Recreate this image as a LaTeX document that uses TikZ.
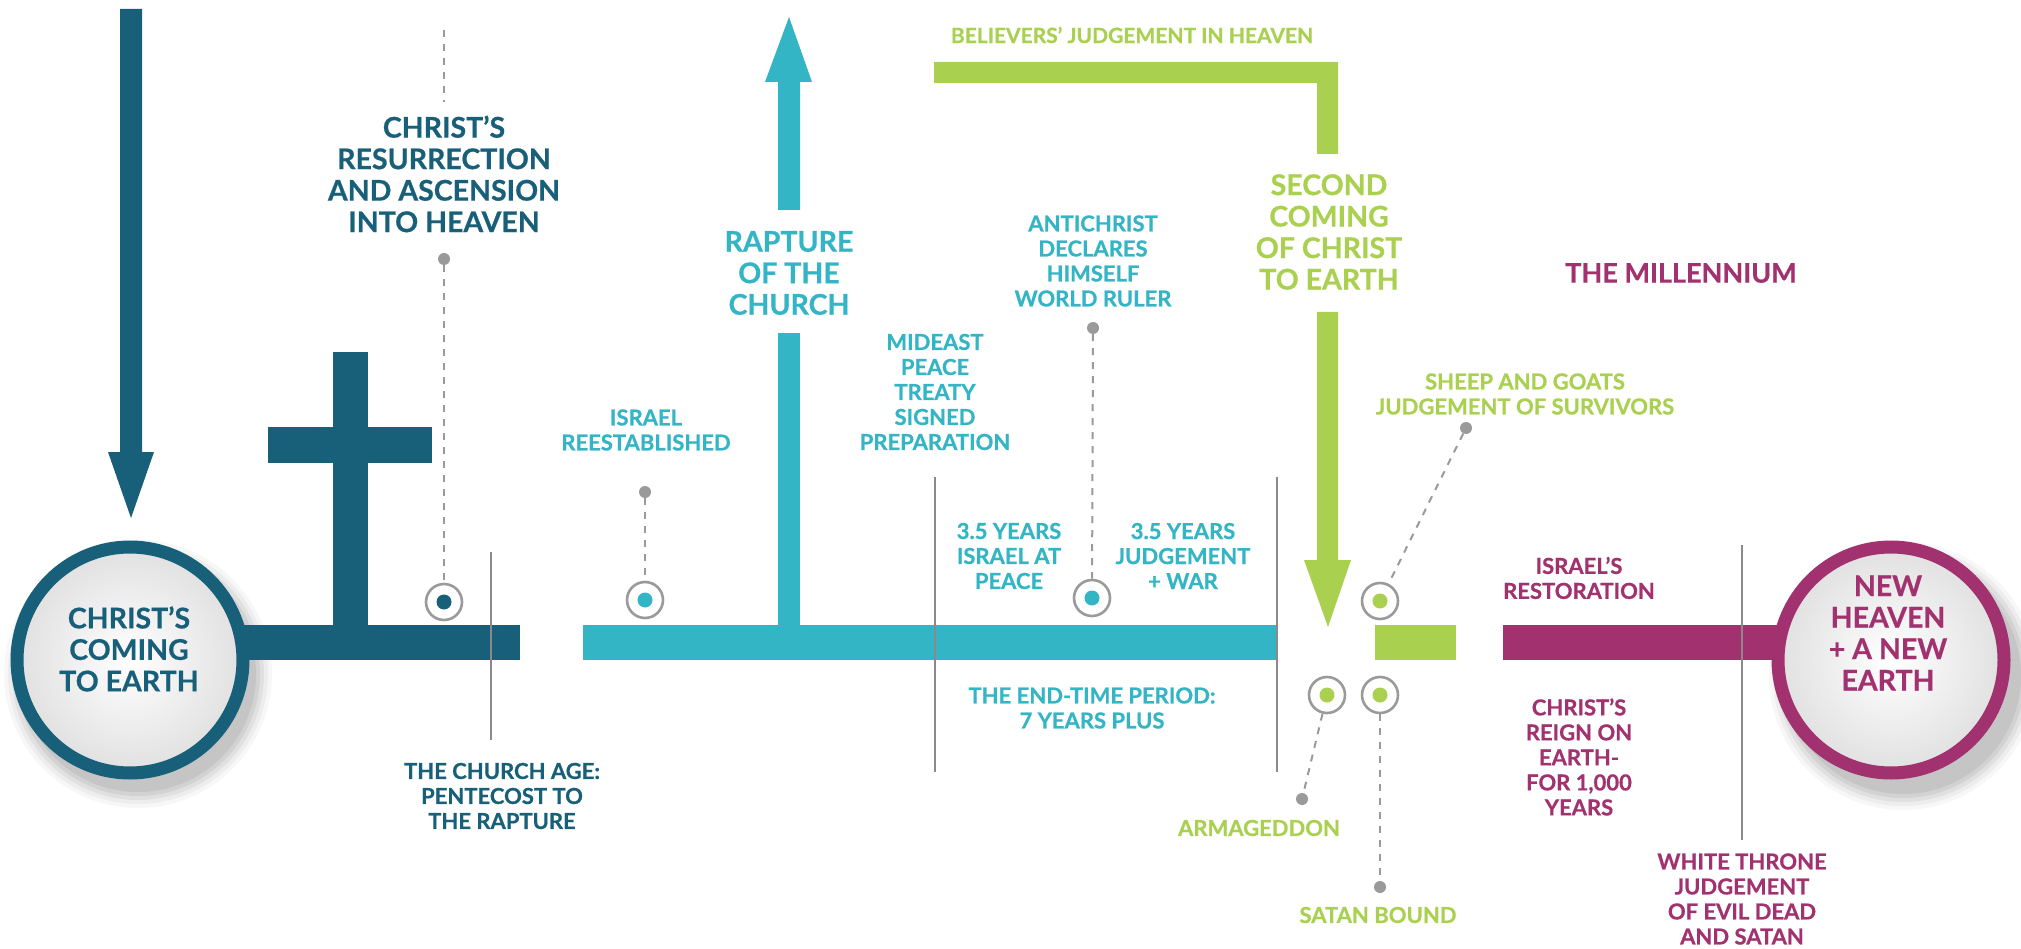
\documentclass[tikz,border=0pt]{standalone}
\usepackage{fontspec}
\setmainfont{Lato}[BoldFeatures={FakeBold=0.6}]
\usetikzlibrary{shadows}
\definecolor{dteal}{HTML}{186079}
\definecolor{cteal}{HTML}{33B5C5}
\definecolor{cgreen}{HTML}{A9D14F}
\definecolor{cmag}{HTML}{A2316F}
\definecolor{lgray}{HTML}{8A8A8A}
\definecolor{rgray}{HTML}{9A9A9A}
\newcommand\myfs[2]{\fontsize{#1}{#2}\selectfont\bfseries}
\tikzset{
  x=1pt, y=-1pt,
  txt/.style={align=center, inner sep=0, font=\myfs{22}{25}},
  bigtxt/.style={align=center, inner sep=0, font=\myfs{28.5}{31.5}},
  gdot/.style={circle, fill=rgray, inner sep=0, minimum size=12},
  ring/.style={circle, draw=rgray, line width=2.6, fill=white, inner sep=0, minimum size=36,
    path picture={\fill[#1] (path picture bounding box.center) circle[radius=7.5];}},
  dashc/.style={draw=rgray, line width=2, dash pattern=on 7pt off 7pt},
  divider/.style={draw=lgray, line width=2},
  bigcirc/.style={circle, draw=#1, line width=13, minimum size=226, inner sep=0,
    inner color=white, outer color=gray!24},
}
\begin{document}
\begin{tikzpicture}
\useasboundingbox[fill=white] (0,0) rectangle (2021,949);

% ---- shadows of the big circles
\foreach \r/\o in {134/0.03,130/0.04,126/0.05,122/0.06,118/0.06}{
  \fill[black, opacity=\o] (138,674) circle[radius=\r];
  \fill[black, opacity=\o] (1903,676) circle[radius=\r];
}

% ---- bars
\fill[dteal] (200,625) rectangle (520,660);
\fill[cteal] (583,625) rectangle (1277,660);
\fill[cgreen] (1375,625) rectangle (1456,660);
\fill[cmag] (1503,625) rectangle (1820,660);

% ---- cross
\fill[dteal] (333,352) rectangle (368,625);
\fill[dteal] (268,427) rectangle (432,463);

% ---- arrows
\fill[dteal] (120,9) -- (142,9) -- (142,452) -- (154,452) -- (131,518) -- (108,452) -- (120,452) -- cycle;
\fill[cteal] (778,333) rectangle (800,625);
\fill[cteal] (778,210) -- (778,82) -- (765,82) -- (789,17) -- (812,82) -- (800,82) -- (800,210) -- cycle;
\fill[cgreen] (934,62) -- (1338,62) -- (1338,154) -- (1317,154) -- (1317,83) -- (934,83) -- cycle;
\fill[cgreen] (1317,312) -- (1317,560) -- (1304,560) -- (1328,627) -- (1351,560) -- (1338,560) -- (1338,312) -- cycle;

% ---- dividers
\coordinate (ca1) at (491,552); \coordinate (ca2) at (491,740);
\coordinate (me1) at (935,477); \coordinate (me2) at (935,772);
\coordinate (et1) at (1277,477); \coordinate (et2) at (1277,772);
\coordinate (wt1) at (1742,545); \coordinate (wt2) at (1742,840);
\draw[divider] (ca1) -- (ca2);
\draw[divider] (me1) -- (me2);
\draw[divider] (et1) -- (et2);
\draw[divider] (wt1) -- (wt2);

% ---- big circles
\node[bigcirc=dteal] (coming) at (130,660) {};
\node[bigcirc=cmag] (newheaven) at (1891,660) {};
\node[bigtxt, text=dteal] (comingtxt) at (129,649) {CHRIST’S\\COMING\\TO EARTH};
\node[bigtxt, text=cmag] (newtxt) at (1888,633) {NEW\\HEAVEN\\+ A NEW\\EARTH};

% ---- resurrection
\coordinate (restop1) at (444,30); \coordinate (restop2) at (444,102);
\draw[dashc] (restop1) -- (restop2);
\node[bigtxt, text=dteal] (restxt) at (444,174) {CHRIST’S\\RESURRECTION\\AND ASCENSION\\INTO HEAVEN};
\node[gdot] (resdot) at (444,259) {};
\node[ring=dteal] (resring) at (444,602) {};
\draw[dashc] (resdot) -- (resring);

% ---- church age
\node[txt, text=dteal] (churchage) at (502,796) {THE CHURCH AGE:\\PENTECOST TO\\THE RAPTURE};

% ---- Israel reestablished
\node[txt, text=cteal] (israeltxt) at (646,430) {ISRAEL\\REESTABLISHED};
\node[gdot] (isdot) at (645,492) {};
\node[ring=cteal] (isring) at (645,600) {};
\draw[dashc] (isdot) -- (isring);

% ---- rapture
\node[bigtxt, text=cteal] (rapture) at (789,273) {RAPTURE\\OF THE\\CHURCH};

% ---- mideast
\node[txt, text=cteal] (mideast) at (935,392) {MIDEAST\\PEACE\\TREATY\\SIGNED\\PREPARATION};

% ---- antichrist
\node[txt, text=cteal] (antichrist) at (1093,261) {ANTICHRIST\\DECLARES\\HIMSELF\\WORLD RULER};
\node[gdot] (acdot) at (1093,328) {};
\node[ring=cteal] (acring) at (1092,598) {};
\draw[dashc] (acdot) -- (acring);

\node[txt, text=cteal] (peace) at (1009,556) {3.5 YEARS\\ISRAEL AT\\PEACE};
\node[txt, text=cteal] (war) at (1183,556) {3.5 YEARS\\JUDGEMENT\\+ WAR};
\node[txt, text=cteal] (endtime) at (1092,708) {THE END-TIME PERIOD:\\7 YEARS PLUS};

% ---- believers / second coming
\node[txt, text=cgreen, font=\myfs{21}{24}] (believers) at (1132,35) {BELIEVERS’ JUDGEMENT IN HEAVEN};
\node[bigtxt, text=cgreen] (second) at (1329,232) {SECOND\\COMING\\OF CHRIST\\TO EARTH};

% ---- sheep and goats
\node[txt, text=cgreen] (sheep) at (1525,394) {SHEEP AND GOATS\\JUDGEMENT OF SURVIVORS};
\node[gdot] (shdot) at (1466,428) {};
\node[ring=cgreen] (shring) at (1380,601) {};
\draw[dashc] (shdot) -- (shring);

% ---- armageddon / satan bound
\node[ring=cgreen] (arring) at (1327,695) {};
\node[gdot] (ardot) at (1302,799) {};
\draw[dashc] (arring) -- (ardot);
\node[txt, text=cgreen] (armtxt) at (1259,828) {ARMAGEDDON};
\node[ring=cgreen] (saring) at (1380,695) {};
\node[gdot] (sadot) at (1380,887) {};
\draw[dashc] (saring) -- (sadot);
\node[txt, text=cgreen] (satantxt) at (1378,915) {SATAN BOUND};

% ---- millennium
\node[bigtxt, text=cmag, font=\myfs{27}{30}] (millennium) at (1681,273) {THE MILLENNIUM};
\node[txt, text=cmag] (restoration) at (1579,578) {ISRAEL’S\\RESTORATION};
\node[txt, text=cmag] (reign) at (1579,757) {CHRIST’S\\REIGN ON\\EARTH-\\FOR 1,000\\YEARS};
\node[txt, text=cmag] (whitethrone) at (1742,899) {WHITE THRONE\\JUDGEMENT\\OF EVIL DEAD\\AND SATAN};
\end{tikzpicture}
\end{document}
